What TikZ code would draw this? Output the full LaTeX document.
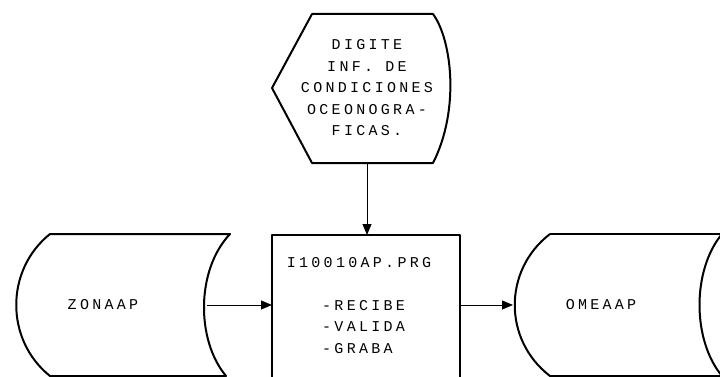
\documentclass[tikz,border=0pt]{standalone}
\usepackage{fontspec}
\newfontfamily\plotfont[LetterSpace=22]{Liberation Mono}
\usetikzlibrary{arrows.meta, calc}
\tikzset{
  shapeline/.style={line width=2pt, line join=round},
  flow/.style={line width=0.9pt, -{Triangle[length=11pt, width=9pt]}},
  plot/.style={font=\plotfont\fontsize{15}{21.5}\selectfont, inner sep=0pt}
}

\begin{document}
\begin{tikzpicture}[x=1pt, y=-1pt]

	\useasboundingbox (0,0) rectangle (720,377);
	\clip (0,0) rectangle (720,377);

	% display: digite informacion
	\coordinate (dtl) at (312,14);
	\coordinate (dtr) at (433,14);
	\coordinate (dbl) at (312,163);
	\coordinate (dbr) at (433,163);
	\coordinate (dout) at (367,163);
	\draw[shapeline] (dtl) -- (dtr) .. controls (452,40) and (460,110) .. (dbr)
		-- (dbl) -- (272,88) -- cycle;
	\node[plot, align=center] (digite) at (367,88)
		{DIGITE\\INF. DE\\CONDICIONES\\OCEONOGRA-\\FICAS.};

	% proceso
	\draw[shapeline, line width=2.5pt] (272,235) rectangle (460,400);
	\coordinate (pin) at (272,305);
	\coordinate (pout) at (460,305);
	\coordinate (ptop) at (367,235);
	\node[plot] (prog) at (359,263) {I10010AP.PRG};
	\node[plot, anchor=west, align=left] (pasos) at (322,327) {-RECIBE\\-VALIDA\\-GRABA};

	% archivo de entrada
	\draw[shapeline] (50,234) -- (230,234) .. controls (196,270) and (196,340) .. (226,376)
		-- (50,376) .. controls (5,340) and (5,270) .. cycle;
	\coordinate (zout) at (207,305);
	\node[plot] (zonaap) at (103,305) {ZONAAP};

	% archivo de salida
	\draw[shapeline] (550,234) -- (725,234);
	\draw[shapeline] (550,234) .. controls (503,270) and (503,340) .. (550,376) -- (725,376);
	\draw[shapeline] (722,234) .. controls (692,270) and (692,340) .. (722,376);
	\coordinate (oin) at (513,305);
	\node[plot] (omeaap) at (601,305) {OMEAAP};

	\draw[flow] (dout) -- (ptop);
	\draw[flow] (zout) -- (pin);
	\draw[flow] (pout) -- (oin);

\end{tikzpicture}
\end{document}
